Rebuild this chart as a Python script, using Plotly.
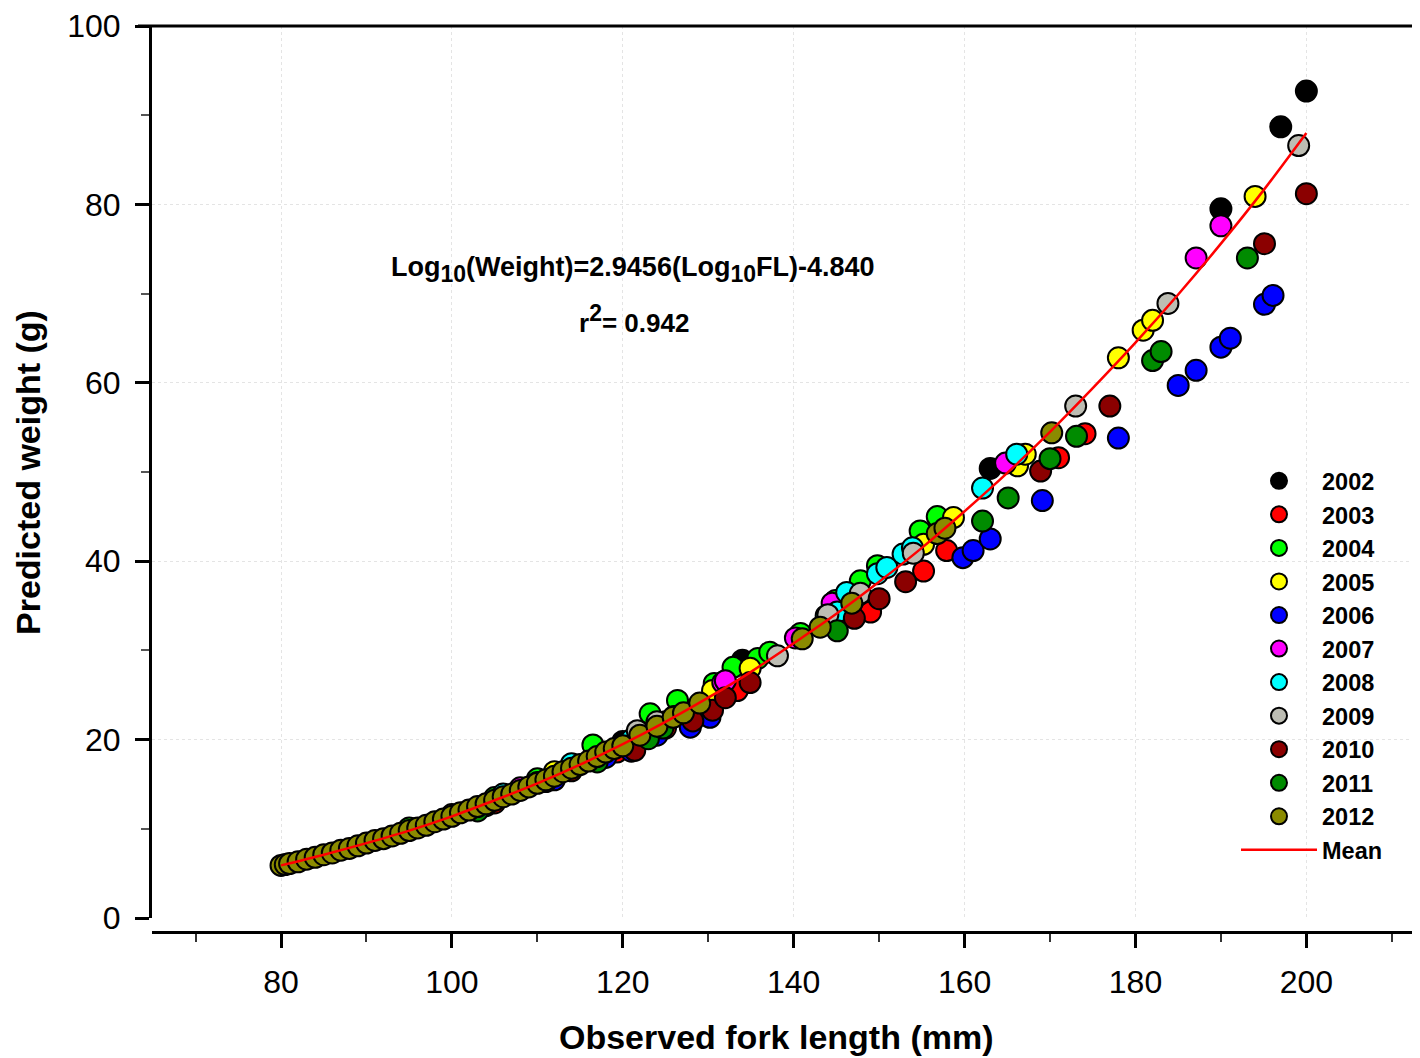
import plotly.graph_objects as go

years = ["2002", "2003", "2004", "2005", "2006", "2007", "2008", "2009", "2010", "2011", "2012"]
colors = ["#000000", "#ff0000", "#00ff00", "#ffff00", "#0000ff", "#ff00ff",
          "#00ffff", "#bdbdb3", "#8b0000", "#008b00", "#8b8b00"]

fl_2002 = [120, 128, 134, 163, 190, 197, 200]
w_2002 = [19.8, 23.3, 28.9, 50.4, 79.5, 88.7, 92.7]

fl_2003 = [105, 112, 119.3, 125, 133.4, 149, 155.2, 157.9, 171, 174.1]
w_2003 = [12.9, 16.2, 18.6, 21.3, 25.5, 34.3, 38.9, 41.2, 51.6, 54.3]

fl_2004 = [95, 105, 110, 116.5, 123.2, 126.4, 130.7, 132.9, 135.8, 137.2, 140.8, 144.9, 147.8, 149.8, 154.8, 156.8]
w_2004 = [10.1, 13.5, 15.6, 19.4, 22.9, 24.4, 26.3, 28.1, 29.1, 29.8, 31.9, 35.6, 37.8, 39.5, 43.4, 45.0]

fl_2005 = [100, 112, 130.5, 134.9, 155.2, 158.7, 166.2, 167.1, 178, 180.9, 182, 194]
w_2005 = [11.6, 16.4, 25.5, 28.0, 41.9, 44.9, 50.7, 52.0, 62.8, 65.9, 67.0, 80.9]

fl_2006 = [104, 112, 118, 121, 124, 127.9, 130.2, 159.8, 161, 163, 169.1, 178, 185, 187.1, 190, 191.1, 195.1, 196.1]
w_2006 = [12.6, 15.5, 18.0, 18.7, 20.5, 21.4, 22.5, 40.4, 41.2, 42.5, 46.8, 53.8, 59.7, 61.4, 64.0, 65.0, 68.8, 69.8]

fl_2007 = [108, 125, 131.7, 132, 140.2, 144.5, 164.8, 187.1, 190]
w_2007 = [14.6, 22.0, 26.4, 26.6, 31.4, 35.3, 51.0, 74.0, 77.6]

fl_2008 = [106, 114, 121, 126, 143.8, 145.1, 146.2, 149.8, 150.9, 152.8, 153.9, 162.1, 166.1]
w_2008 = [13.9, 17.3, 20.0, 22.6, 33.9, 34.3, 36.5, 38.6, 39.3, 40.8, 41.5, 48.2, 52.0]

fl_2009 = [110, 121.7, 124, 138.1, 144, 147.8, 154, 173, 183.8, 199.1]
w_2009 = [15.2, 21.0, 22.0, 29.4, 34.0, 36.4, 40.9, 57.4, 68.9, 86.6]

fl_2010 = [114, 121.4, 128.2, 130.5, 132, 134.9, 147.1, 150, 153.1, 168.9, 177, 195.1, 200]
w_2010 = [16.5, 18.8, 22.1, 23.3, 24.7, 26.4, 33.6, 35.8, 37.7, 50.1, 57.4, 75.6, 81.2]

fl_2011 = [103, 111, 117, 123, 124.7, 145.1, 162.1, 165.1, 170, 173.1, 182, 183, 193.1]
w_2011 = [12.0, 15.3, 17.5, 20.1, 21.3, 32.2, 44.5, 47.1, 51.5, 54.0, 62.5, 63.5, 74.0]

fl_2012 = [80, 80.5, 81, 82, 83, 84, 85, 86, 87, 88, 89, 90, 91, 92, 93, 94, 95, 96, 97, 98, 99,
           100, 101, 102, 103, 104, 105, 106, 107, 108, 109, 110, 111, 112, 113, 114, 115, 116,
           117, 118, 119, 120, 122, 124, 125.9, 127.1, 129, 141, 143.1, 146.8, 156.8, 157.7, 170.2]
w_2012 = [5.9, 6.0, 6.1, 6.3, 6.6, 6.8, 7.1, 7.3, 7.6, 7.8, 8.1, 8.4, 8.7, 8.9, 9.2, 9.5, 9.8,
          10.1, 10.4, 10.8, 11.1, 11.4, 11.8, 12.1, 12.5, 12.8, 13.2, 13.6, 13.9, 14.3, 14.7, 15.1,
          15.5, 15.9, 16.4, 16.8, 17.2, 17.6, 18.1, 18.6, 19.0, 19.3, 20.5, 21.5, 22.5, 23.0, 24.1,
          31.3, 32.6, 35.3, 43.1, 43.7, 54.4]

fl_by_year = [fl_2002, fl_2003, fl_2004, fl_2005, fl_2006, fl_2007, fl_2008, fl_2009, fl_2010, fl_2011, fl_2012]
w_by_year = [w_2002, w_2003, w_2004, w_2005, w_2006, w_2007, w_2008, w_2009, w_2010, w_2011, w_2012]

mean_fl = [80, 85, 90, 95, 100, 105, 110, 115, 120, 125, 130, 135, 140, 145, 150, 155, 160,
           165, 170, 175, 180, 185, 190, 195, 200]
mean_w = [5.9, 7.1, 8.4, 9.8, 11.4, 13.2, 15.1, 17.2, 19.5, 22.0, 24.7, 27.6, 30.8, 34.1, 37.7,
          41.5, 45.6, 49.9, 54.5, 59.4, 64.5, 69.9, 75.6, 81.6, 88.0]

x_ticks = [80, 100, 120, 140, 160, 180, 200]
y_ticks = [0, 20, 40, 60, 80, 100]

FONT = "Liberation Sans, Arial, sans-serif"

fig = go.Figure()
for yr, col, xs, ys in zip(years, colors, fl_by_year, w_by_year):
    fig.add_trace(go.Scatter(
        x=xs, y=ys, mode="markers", name=yr,
        marker=dict(size=21, color=col, line=dict(color="black", width=2)),
    ))
fig.add_trace(go.Scatter(
    x=mean_fl, y=mean_w, mode="lines", name="Mean", line_shape="spline",
    line=dict(color="#ff0000", width=2.5),
))

# page body has an 8px margin, so the figure is offset by 8px
W, H = 1412, 1050
ml, mr, mt, mb = 144, 0, 16, 126
plot_w = W - ml - mr
plot_h = H - mt - mb
ydom0 = 14 / plot_h


def px_x(px):
    return (px - 152) / plot_w


def px_y(py):
    return (932 - py) / plot_h


sub10 = "<sub><span style='font-size:23px'>10</span></sub>"

fig.update_layout(
    width=W, height=H,
    margin=dict(l=ml, r=mr, t=mt, b=mb, pad=0),
    paper_bgcolor="white", plot_bgcolor="white",
    font=dict(family=FONT, color="black"),
    showlegend=True,
    legend=dict(
        x=px_x(1236), xanchor="left",
        y=px_y(458), yanchor="top",
        font=dict(family=FONT, size=23.5, color="black", weight="bold"),
        itemwidth=76, bgcolor="rgba(0,0,0,0)", borderwidth=0,
        tracegroupgap=0,
    ),
    xaxis=dict(
        range=[64.9, 213.3], anchor="free", position=0,
        tickmode="array", tickvals=x_ticks, ticktext=[str(v) for v in x_ticks],
        showline=True, linecolor="black", linewidth=3,
        ticks="outside", ticklen=14, tickwidth=3, tickcolor="black",
        tickfont=dict(size=32, family=FONT), ticklabelstandoff=7,
        ticklabeloverflow="allow",
        minor=dict(tickmode="array", tickvals=[70, 90, 110, 130, 150, 170, 190, 210],
                   ticks="outside", ticklen=8, tickwidth=1.5, tickcolor="#333333", showgrid=False),
        showgrid=True, gridcolor="#e4e4e4", griddash="dot", gridwidth=1,
        zeroline=False,
    ),
    yaxis=dict(
        range=[0, 100], domain=[ydom0, 1],
        tickmode="array", tickvals=y_ticks, ticktext=[str(v) for v in y_ticks],
        showline=True, linecolor="black", linewidth=3,
        ticks="outside", ticklen=14, tickwidth=3, tickcolor="black",
        tickfont=dict(size=32, family=FONT), ticklabelstandoff=8,
        ticklabeloverflow="allow",
        minor=dict(tickmode="array", tickvals=[10, 30, 50, 70, 90],
                   ticks="outside", ticklen=8, tickwidth=1.5, tickcolor="#555555", showgrid=False),
        showgrid=True, gridcolor="#e4e4e4", griddash="dot", gridwidth=1,
        zeroline=False,
    ),
    shapes=[
        dict(type="line", xref="paper", yref="paper", x0=-14 / plot_w, x1=1, y0=1, y1=1,
             line=dict(color="black", width=3)),
    ],
    annotations=[
        dict(text="<b>Observed fork length (mm)</b>",
             xref="paper", yref="paper", x=px_x(776), y=px_y(1037),
             xanchor="center", yanchor="middle", showarrow=False,
             font=dict(size=34, family=FONT, color="black")),
        dict(text="<b>Predicted weight (g)</b>", textangle=-90,
             xref="paper", yref="paper", x=px_x(28), y=px_y(472),
             xanchor="center", yanchor="middle", showarrow=False,
             font=dict(size=34, family=FONT, color="black")),
        dict(text="<b>Log" + sub10 + "(Weight)=2.9456(Log" + sub10 + "FL)-4.840</b>",
             xref="paper", yref="paper", x=px_x(633), y=px_y(268),
             xanchor="center", yanchor="middle", showarrow=False,
             font=dict(size=27, family=FONT, color="black")),
        dict(text="<b>r<sup><span style='font-size:23px'>2</span></sup>= 0.942</b>",
             xref="paper", yref="paper", x=px_x(634), y=px_y(318),
             xanchor="center", yanchor="middle", showarrow=False,
             font=dict(size=26, family=FONT, color="black")),
    ],
)

fig.write_html("out.html")
